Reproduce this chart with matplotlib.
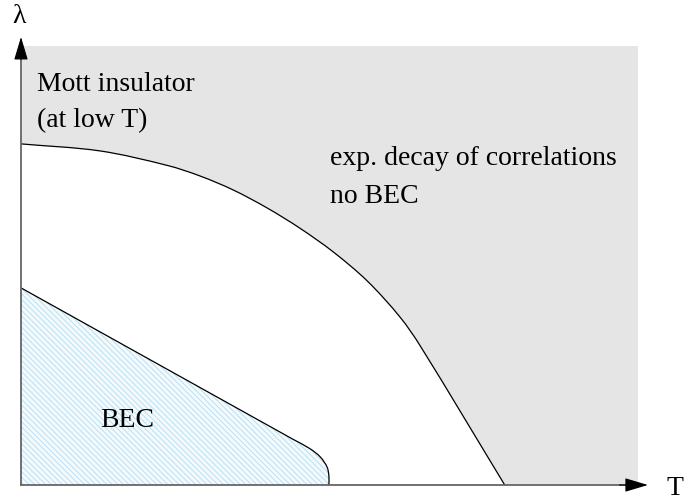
# Phase diagram: Mott insulator / BEC / no BEC

import numpy as np
import matplotlib
matplotlib.use('Agg')
import matplotlib.pyplot as plt
from matplotlib.path import Path
from matplotlib.patches import PathPatch

plt.rcParams['font.family'] = ['Liberation Serif', 'DejaVu Serif']
plt.rcParams['hatch.linewidth'] = 0.6

# Phase boundaries, T and lambda in units of the plotted window
mott_T = [0.0, 0.128, 0.237, 0.290, 0.344, 0.399, 0.452, 0.506, 0.561, 0.614, 0.647, 0.784]
mott_lam = [0.777, 0.761, 0.728, 0.704, 0.672, 0.631, 0.585, 0.531, 0.465, 0.383, 0.317, 0.0]

bec_T = [0.0, 0.441, 0.468, 0.485, 0.496, 0.499, 0.499]
bec_lam = [0.449, 0.104, 0.083, 0.064, 0.041, 0.021, 0.0]

# Labels
region_labels = {
    'mott': ['Mott insulator', '(at low T)'],
    'disordered': ['exp. decay of correlations', 'no BEC'],
    'bec': ['BEC'],
}

GRAY = '#e5e5e5'
AXIS_GRAY = '#666666'
HATCH_BLUE = '#b0dcf0'
FS = 20


def smooth_path(xs, ys, closing=None):
    """Chord-length Catmull-Rom curve through the points, as a Bezier Path."""
    pts = np.column_stack([xs, ys])
    n = len(pts)
    seg = np.linalg.norm(np.diff(pts, axis=0), axis=1)
    tang = np.zeros_like(pts)
    for i in range(n):
        a = pts[max(i - 1, 0)]
        b = pts[min(i + 1, n - 1)]
        d = b - a
        tang[i] = d / np.linalg.norm(d)
    verts = [pts[0]]
    codes = [Path.MOVETO]
    for i in range(n - 1):
        L = seg[i] / 3.0
        verts += [pts[i] + tang[i] * L, pts[i + 1] - tang[i + 1] * L, pts[i + 1]]
        codes += [Path.CURVE4] * 3
    if closing is not None:
        for p in closing:
            verts.append(p)
            codes.append(Path.LINETO)
        verts.append(pts[0])
        codes.append(Path.CLOSEPOLY)
    return Path(verts, codes)


W, H = 684, 502
fig = plt.figure(figsize=(W / 100, H / 100), dpi=100)
x0, y0, x1, y1 = 21, 486, 638, 47
ax = fig.add_axes([x0 / W, (H - y0) / H, (x1 - x0) / W, (y0 - y1) / H])
ax.set_xlim(0, 1)
ax.set_ylim(0, 1)
ax.axis('off')

# regions
ax.add_patch(plt.Rectangle((0, 0), 1, 1, facecolor=GRAY, edgecolor='none', zorder=0))
white = smooth_path(mott_T, mott_lam, closing=[(0, 0)])
ax.add_patch(PathPatch(white, facecolor='white', edgecolor='none', zorder=1))
bec = smooth_path(bec_T, bec_lam, closing=[(0, 0)])
ax.add_patch(PathPatch(bec, facecolor='#f3fafd', edgecolor=HATCH_BLUE, hatch='\\' * 6,
                       linewidth=0, zorder=2))

# boundaries
ax.add_patch(PathPatch(smooth_path(mott_T, mott_lam), facecolor='none', edgecolor='black',
                       linewidth=0.9, zorder=3))
ax.add_patch(PathPatch(smooth_path(bec_T, bec_lam), facecolor='none', edgecolor='black',
                       linewidth=0.9, zorder=3))

# axes with arrows
ax.plot([0, 0], [0, 0.98], color=AXIS_GRAY, lw=1.3, clip_on=False, zorder=4)
ax.plot([0, 0.985], [0, 0], color=AXIS_GRAY, lw=1.3, clip_on=False, zorder=4)
arrow = dict(arrowstyle='-|>,head_length=0.4,head_width=0.12', mutation_scale=36,
             color='black', lw=0.8, shrinkA=0, shrinkB=0)
ax.annotate('', xy=(0, 1.0205), xytext=(0, 0.97), arrowprops=arrow, annotation_clip=False, zorder=5)
ax.annotate('', xy=(1.016, 0), xytext=(0.97, 0), arrowprops=arrow, annotation_clip=False, zorder=5)

ax.text(-0.0146, 1.0547, '\u03bb', fontsize=FS, va='baseline', ha='left')
ax.text(1.047, -0.0205, 'T', fontsize=FS, va='baseline', ha='left')

# labels
ax.text(0.026, 0.900, region_labels['mott'][0], fontsize=FS, va='baseline', zorder=6)
ax.text(0.026, 0.818, region_labels['mott'][1], fontsize=FS, va='baseline', zorder=6)
ax.text(0.501, 0.731, region_labels['disordered'][0], fontsize=FS, va='baseline', zorder=6)
ax.text(0.501, 0.645, region_labels['disordered'][1], fontsize=FS, va='baseline', zorder=6)
ax.text(0.128, 0.134, region_labels['bec'][0], fontsize=FS, va='baseline', zorder=6)

fig.savefig('out.png', dpi=100)
